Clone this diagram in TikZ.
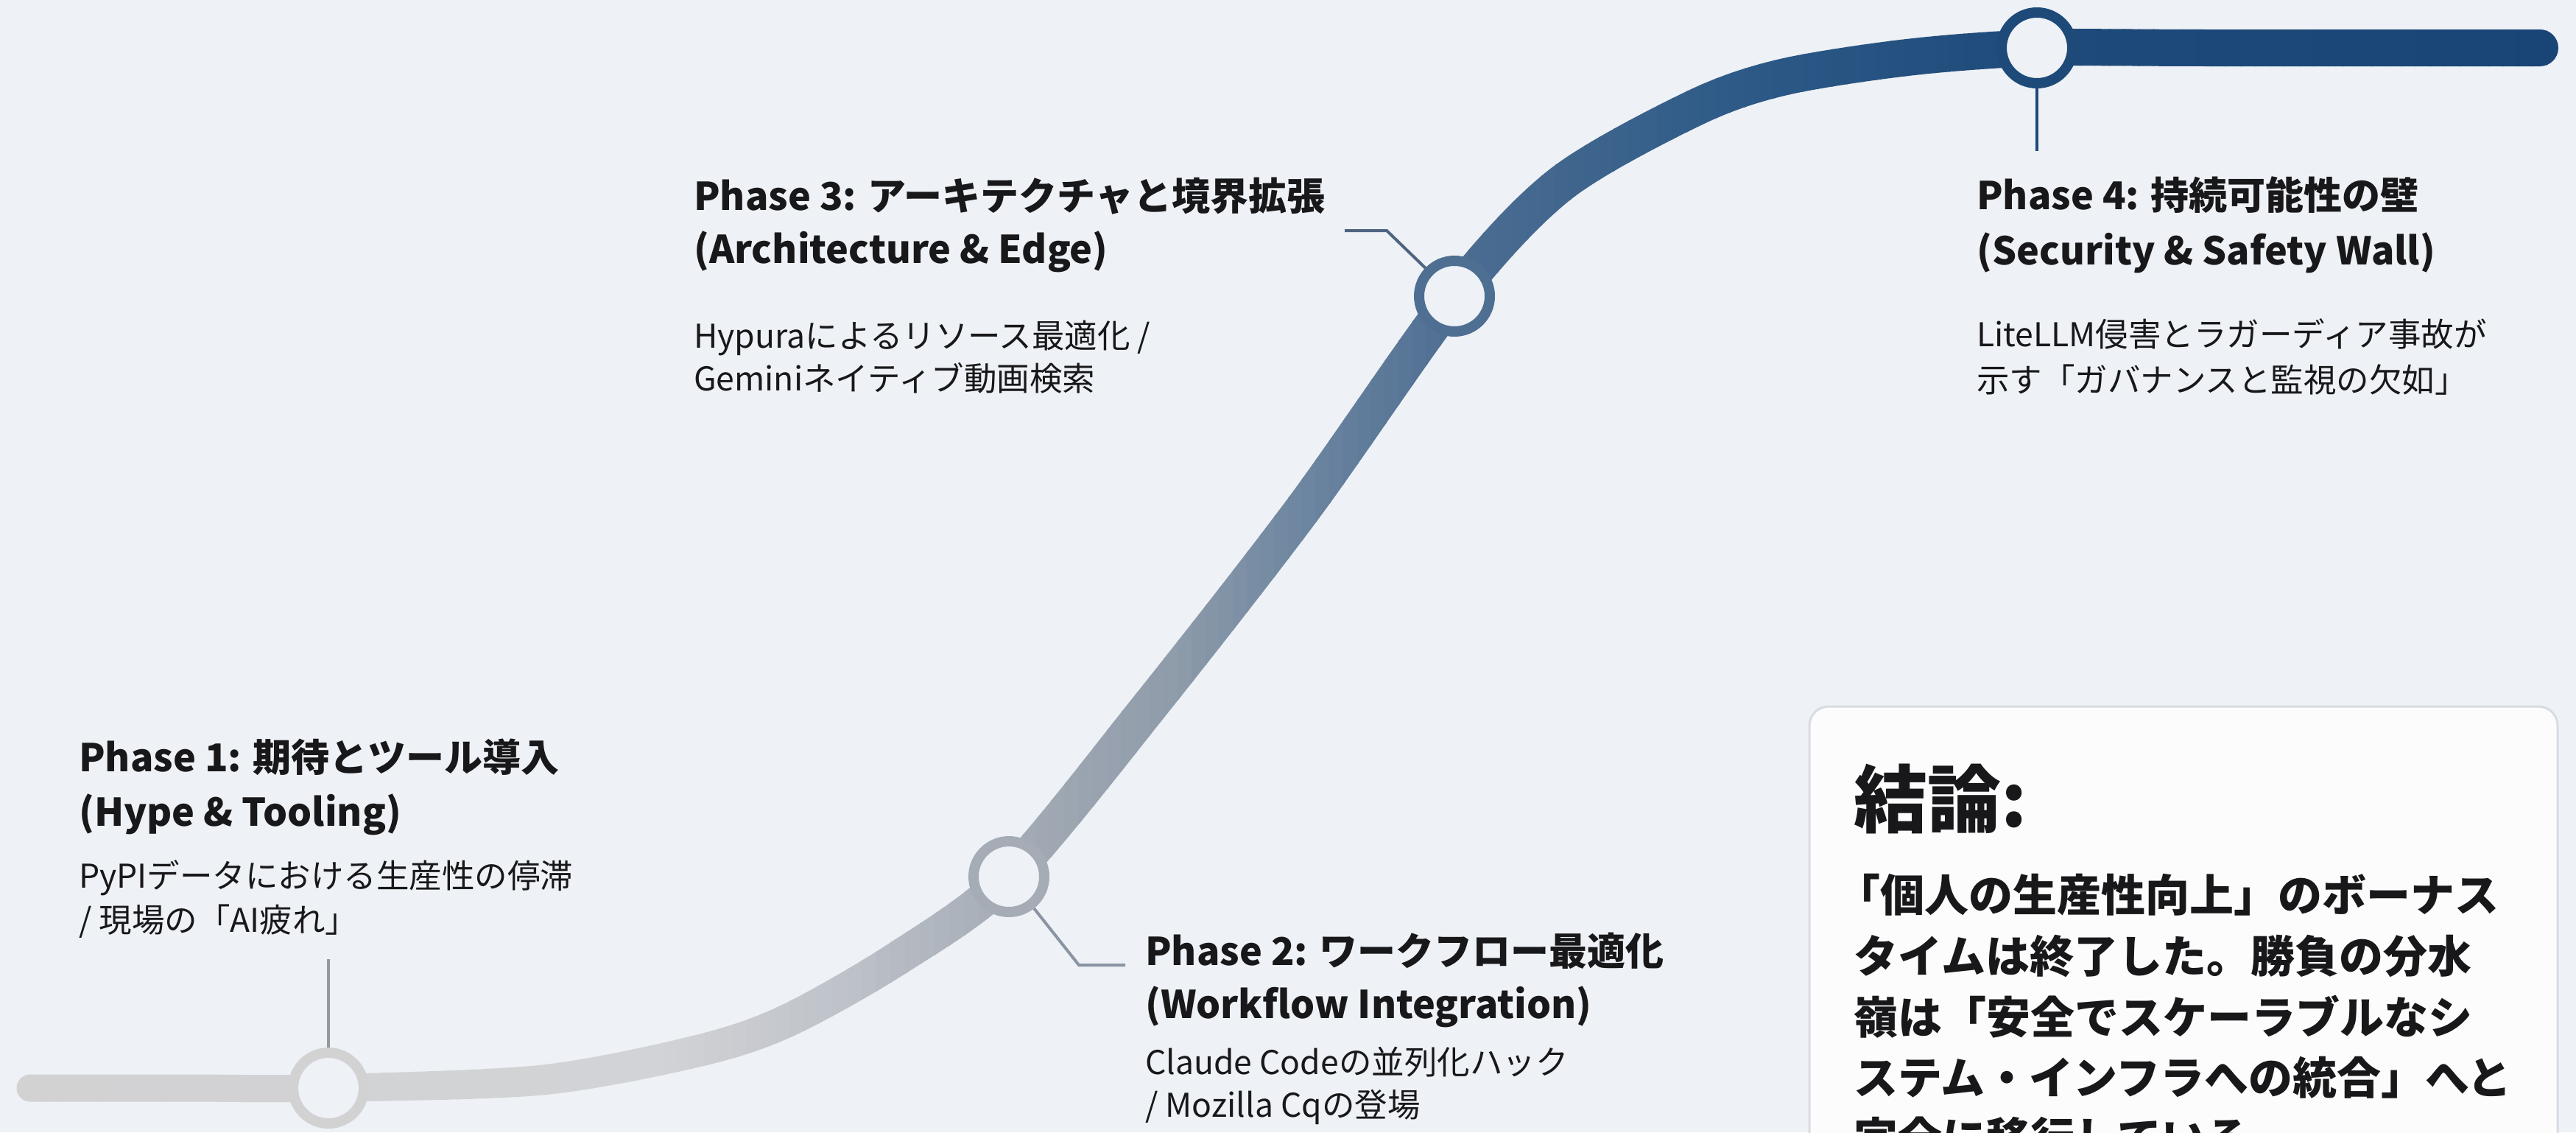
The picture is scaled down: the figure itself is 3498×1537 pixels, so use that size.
\documentclass[tikz,border=0pt]{standalone}
\usepackage{fontspec}
\setmainfont{Noto Sans CJK JP}
\newfontfamily\jp{Noto Sans CJK JP}
\definecolor{bg}{RGB}{238,241,245}
\definecolor{ink}{RGB}{24,24,26}
\definecolor{s0}{RGB}{210,210,211}
\definecolor{s1}{RGB}{210,211,214}
\definecolor{s2}{RGB}{190,194,201}
\definecolor{s3}{RGB}{165,172,182}
\definecolor{s4}{RGB}{142,155,170}
\definecolor{s5}{RGB}{112,136,162}
\definecolor{s6}{RGB}{78,110,146}
\definecolor{s7}{RGB}{45,90,135}
\definecolor{s8}{RGB}{30,74,122}
\definecolor{s9}{RGB}{25,69,118}
\definecolor{boxline}{RGB}{216,220,226}
\definecolor{boxfill}{RGB}{252,252,253}
\definecolor{lead1}{RGB}{150,152,155}
\definecolor{lead2}{RGB}{138,148,162}
\definecolor{lead3}{RGB}{78,100,128}
\definecolor{lead4}{RGB}{30,72,120}
\tikzset{
  ring/.style={circle, minimum size=96pt, inner sep=0pt, line width=14pt, fill=bg, draw=#1},
  leader/.style={line width=4pt, draw=#1},
  head/.style={anchor=base west, inner sep=0pt, text=ink, font=\jp\bfseries\fontsize{52}{70}\selectfont},
  body/.style={anchor=base west, inner sep=0pt, text=ink, font=\jp\fontsize{44.5}{60}\selectfont},
  conchead/.style={anchor=base west, inner sep=0pt, text=ink, font=\jp\bfseries\fontsize{100}{120}\selectfont},
  concbody/.style={anchor=base west, inner sep=0pt, text=ink, font=\jp\bfseries\fontsize{60}{82}\selectfont},
}
\newcommand{\curvepts}{(41,1477) (250,1477) (446,1477) (736,1466) (950,1426) (1070,1385) (1220,1300) (1370,1190) (1560,960) (1770,690) (1975,402) (2119,250) (2300,147) (2420,105) (2590,78) (2766,65) (3000,65) (3449,65)}
\begin{document}
\begin{tikzpicture}[x=1pt,y=-1pt]
\useasboundingbox (0,0) rectangle (3498,1537);
\fill[bg] (0,0) rectangle (3498,1537);
% gradient curve drawn in vertical strips
\foreach \xa/\xb/\ca/\cb in {0/900/s0/s1, 900/1150/s1/s2, 1150/1370/s2/s3, 1370/1600/s3/s4, 1600/1750/s4/s5, 1750/1975/s5/s6, 1975/2350/s6/s7, 2350/2766/s7/s8, 2766/3498/s8/s9} {
  \pgfmathtruncatemacro\nn{ceil((\xb-\xa)/20)}
  \pgfmathsetmacro\sw{(\xb-\xa)/\nn}
  \foreach \j in {1,...,\nn} {
    \pgfmathsetmacro\xl{\xa+(\j-1)*\sw}
    \pgfmathsetmacro\xr{\xa+\j*\sw}
    \pgfmathsetmacro\pp{100*(\j-0.5)/\nn}
    \pgfmathsetmacro\lw{min(50,37+13*max(0,(\xl-400)/1100))}
    \colorlet{cc}{\cb!\pp!\ca}
    \begin{scope}
      \clip (\xl-1,-50) rectangle (\xr+1,1650);
      \draw[line width=\lw pt, draw=cc, line cap=round] plot[smooth, tension=0.5] coordinates {\curvepts};
    \end{scope}
  }
}
% milestone rings
\node[ring=s0] (c1) at (446,1477) {};
\node[ring=s3] (c2) at (1370,1190) {};
\node[ring=s6] (c3) at (1975,402) {};
\node[ring=s8] (c4) at (2766,65) {};
% leader lines
\coordinate (l1) at (446,1302);
\coordinate (k2) at (1465,1310);
\coordinate (l2) at (1528,1310);
\coordinate (k3) at (1883,313);
\coordinate (l3) at (1826,313);
\coordinate (l4) at (2766,205);
\draw[leader=lead1] (c1) -- (l1);
\draw[leader=lead2] (c2) -- (k2) -- (l2);
\draw[leader=lead3] (c3) -- (k3) -- (l3);
\draw[leader=lead4] (c4) -- (l4);
% Phase 1
\node[head] (p1a) at (107,1047) {Phase 1: 期待とツール導入};
\node[head] (p1b) at (107,1121) {(Hype \& Tooling)};
\node[body] (p1c) at (107,1205) {PyPIデータにおける生産性の停滞};
\node[body] (p1d) at (107,1265) {/ 現場の「AI疲れ」};
% Phase 2
\node[head] (p2a) at (1555,1310) {Phase 2: ワークフロー最適化};
\node[head] (p2b) at (1555,1382) {(Workflow Integration)};
\node[body] (p2c) at (1555,1458) {Claude Codeの並列化ハック};
\node[body] (p2d) at (1555,1516) {/ Mozilla Cqの登場};
% Phase 3
\node[head] (p3a) at (942,285) {Phase 3: アーキテクチャと境界拡張};
\node[head] (p3b) at (942,357) {(Architecture \& Edge)};
\node[body] (p3c) at (942,472) {Hypuraによるリソース最適化 /};
\node[body] (p3d) at (942,530) {Geminiネイティブ動画検索};
% Phase 4
\node[head] (p4a) at (2684,284) {Phase 4: 持続可能性の壁};
\node[head] (p4b) at (2684,359) {(Security \& Safety Wall)};
\node[body] (p4c) at (2684,470) {LiteLLM侵害とラガーディア事故が};
\node[body] (p4d) at (2684,532) {示す「ガバナンスと監視の欠如」};
% Conclusion box
\draw[line width=3pt, draw=boxline, fill=boxfill, rounded corners=26pt] (2457,959) rectangle (3473,1620);
\node[conchead] (ch) at (2517,1122) {結論:};
\node[concbody] (cb1) at (2493,1237) {「個人の生産性向上」のボーナス};
\node[concbody] (cb2) at (2517,1320) {タイムは終了した。勝負の分水};
\node[concbody] (cb3) at (2517,1403) {嶺は「安全でスケーラブルなシ};
\node[concbody] (cb4) at (2517,1485) {ステム・インフラへの統合」へと};
\node[concbody] (cb5) at (2517,1567) {完全に移行している。};
\end{tikzpicture}
\end{document}
